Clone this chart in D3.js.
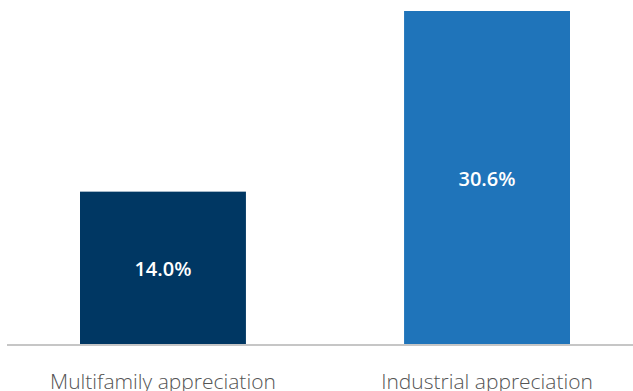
<!DOCTYPE html>
<html>
<head>
<meta charset="utf-8">
<script src="https://cdn.jsdelivr.net/npm/d3@7"></script>
<style>
  html, body { margin: 0; padding: 0; background: #fff; }
  svg { display: block; }
</style>
</head>
<body>
<svg id="chart" width="633" height="391"></svg>
<script>
var categories = ['Multifamily appreciation', 'Industrial appreciation'];
var values = [14.0, 30.6];
var colors = ['#003763', '#1f74ba'];

var W = 633, H = 391;
var baseY = 344;

var svg = d3.select('#chart');

var x = d3.scaleBand()
    .domain(categories)
    .range([80, 570])
    .paddingInner(0.488)
    .paddingOuter(0);

var y = d3.scaleLinear()
    .domain([0, 30.6])
    .range([baseY, 11]);

// bars
svg.selectAll('rect.bar')
    .data(values)
    .enter().append('rect')
    .attr('class', 'bar')
    .attr('x', function(d, i) { return x(categories[i]); })
    .attr('y', function(d) { return y(d); })
    .attr('width', x.bandwidth())
    .attr('height', function(d) { return y(0) - y(d); })
    .attr('fill', function(d, i) { return colors[i]; });

// value labels in the middle of each bar
svg.selectAll('text.val')
    .data(values)
    .enter().append('text')
    .attr('class', 'val')
    .attr('x', function(d, i) { return x(categories[i]) + x.bandwidth() / 2; })
    .attr('y', function(d) { return y(d / 2) + 8; })
    .attr('text-anchor', 'middle')
    .attr('fill', '#fff')
    .style('font-family', 'Open Sans, sans-serif')
    .style('font-weight', 600)
    .style('font-size', '20px')
    .text(function(d) { return d.toFixed(1) + '%'; });

// baseline
svg.append('line')
    .attr('x1', 7).attr('x2', W)
    .attr('y1', baseY + 1).attr('y2', baseY + 1)
    .attr('stroke', '#c6c6c6')
    .attr('stroke-width', 2);

// category labels (bottom of the text runs off the frame, as in the original)
svg.selectAll('text.cat')
    .data(categories)
    .enter().append('text')
    .attr('class', 'cat')
    .attr('x', function(d) { return x(d) + x.bandwidth() / 2; })
    .attr('y', 389)
    .attr('text-anchor', 'middle')
    .attr('fill', '#555')
    .style('font-family', 'Open Sans, sans-serif')
    .style('font-weight', 300)
    .style('font-size', '21px')
    .text(function(d) { return d; });
</script>
</body>
</html>
